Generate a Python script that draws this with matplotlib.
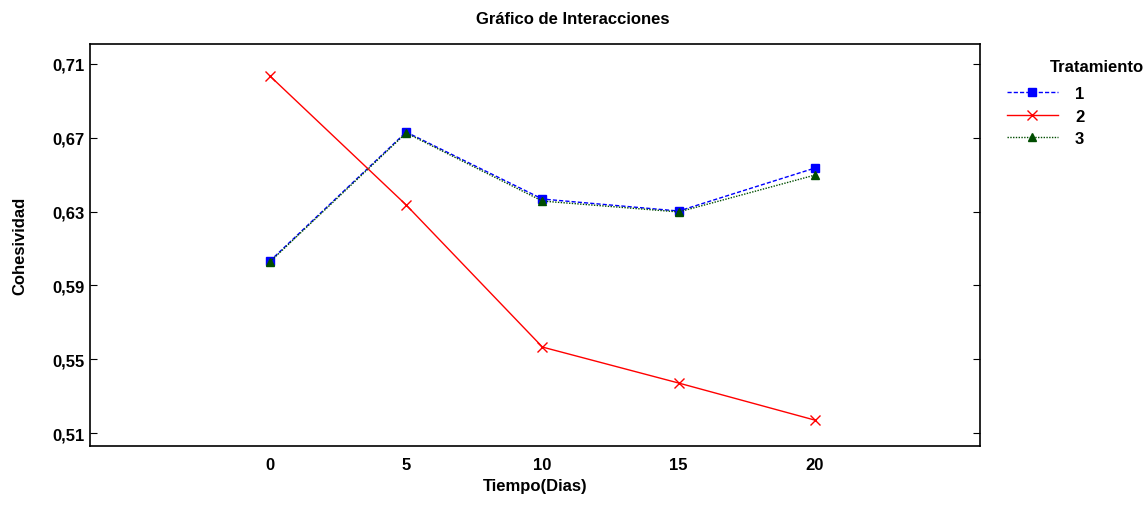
import matplotlib
matplotlib.use('Agg')
import matplotlib.pyplot as plt

plt.rcParams['font.family'] = ['Liberation Sans', 'DejaVu Sans']
plt.rcParams['font.weight'] = 'bold'

# data
dias = [0, 5, 10, 15, 20]
trat1 = [0.6032, 0.6731, 0.6368, 0.6303, 0.6536]
trat2 = [0.7035, 0.6336, 0.5566, 0.5371, 0.5170]
trat3 = [0.6027, 0.6726, 0.6357, 0.6298, 0.6498]
yticks = [0.51, 0.55, 0.59, 0.63, 0.67, 0.71]

fig = plt.figure(figsize=(11.46, 5.06), dpi=100)
ax = fig.add_axes([0.0785, 0.1166, 0.7766, 0.7945])

ax.plot(dias, trat1, color='blue', linestyle=(0, (3, 1.5)), linewidth=1,
        marker='s', markersize=6, label='1')
ax.plot(dias, trat2, color='red', linestyle='-', linewidth=1,
        marker='x', markersize=7, label='2')
ax.plot(dias, trat3, color='#004d00', linestyle=(0, (1, 1)), linewidth=1,
        marker='^', markersize=6, label='3')

ax.set_xlim(-6.6, 26.05)
ax.set_ylim(0.5030, 0.7208)
ax.set_xticks(dias)
ax.set_xticklabels([str(d) for d in dias])
ax.set_yticks(yticks)
ax.set_yticklabels([f'{v:.2f}'.replace('.', ',') for v in yticks])
ax.tick_params(axis='y', direction='in', length=5, right=True, labelsize=12)
ax.tick_params(axis='x', length=0, labelsize=12, pad=8)
for s in ax.spines.values():
    s.set_linewidth(1.2)

ax.set_xlabel('Tiempo(Dias)', fontsize=12, fontweight='bold', labelpad=4)
ax.set_ylabel('Cohesividad', fontsize=12, fontweight='bold', labelpad=18)
fig.text(0.5, 0.962, 'Gráfico de Interacciones', ha='center', va='center',
         fontsize=12, fontweight='bold')

leg = ax.legend(loc='upper left', bbox_to_anchor=(1.03, 0.895),
                frameon=False, fontsize=12, markerscale=1.0,
                handlelength=3.1, handletextpad=1.0, labelspacing=0.45,
                borderaxespad=0, borderpad=0)
fig.text(0.998, 0.867, 'Tratamiento', ha='right', va='center',
         fontsize=12, fontweight='bold')

fig.savefig('out.png', dpi=100)
